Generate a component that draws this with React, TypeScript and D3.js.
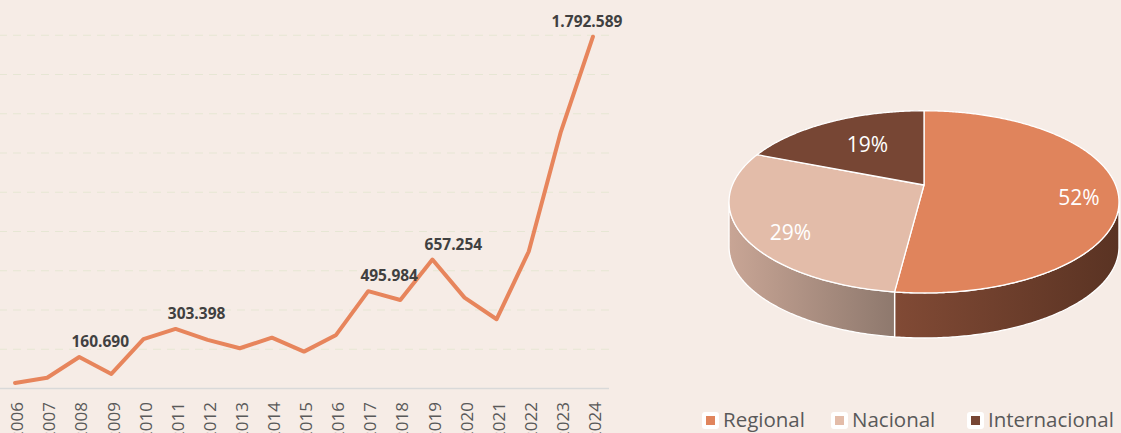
import * as d3 from "d3";
import React, { useRef, useEffect } from "react";

// line chart data
const years = ["2006", "2007", "2008", "2009", "2010", "2011", "2012", "2013", "2014", "2015", "2016", "2017", "2018", "2019", "2020", "2021", "2022", "2023", "2024"];
const visitors = [28000, 55000, 160690, 74000, 252000, 303398, 248000, 205000, 259000, 188000, 273000, 495984, 451000, 657254, 463000, 353000, 698000, 1308000, 1792589];
const labelled = ["2008", "2011", "2017", "2019", "2024"];
const gridTicks = [200000, 400000, 600000, 800000, 1000000, 1200000, 1400000, 1600000, 1800000];

// pie data
const origins = ["Regional", "Nacional", "Internacional"];
const shares = [52, 29, 19];
const pieColors = ["#E0845C", "#E3BCA9", "#774634"];

const W = 1121;
const H = 433;
const BG = "#F6ECE6";

const fmt = d3.formatLocale({ decimal: ",", thousands: ".", grouping: [3], currency: ["", ""] }).format(",d");

function App() {
  const ref = useRef<SVGSVGElement>(null);

  useEffect(() => {
    const svg = d3.select(ref.current);
    svg.selectAll("*").remove();

    svg.append("rect").attr("width", W).attr("height", H).attr("fill", BG);

    // ---------- line chart ----------
    const x = d3.scalePoint().domain(years).range([-1, 609]).padding(0.5);
    const y = d3.scaleLinear().domain([0, 2000000]).range([388.5, -4]);

    const lc = svg.append("g");

    lc.selectAll("line.grid")
      .data(gridTicks)
      .enter()
      .append("line")
      .attr("class", "grid")
      .attr("x1", -1)
      .attr("x2", 609)
      .attr("y1", (d) => y(d))
      .attr("y2", (d) => y(d))
      .attr("stroke", "#E6E6D4")
      .attr("stroke-width", 1.2)
      .attr("stroke-dasharray", "8,6");

    lc.append("line")
      .attr("x1", -1)
      .attr("x2", 609)
      .attr("y1", y(0))
      .attr("y2", y(0))
      .attr("stroke", "#D9D9D9")
      .attr("stroke-width", 1.5);

    lc.selectAll("text.year")
      .data(years)
      .enter()
      .append("text")
      .attr("class", "year")
      .attr("transform", (d) => `translate(${x(d)},402) rotate(-90)`)
      .attr("text-anchor", "end")
      .attr("dy", "0.48em")
      .attr("font-family", "Open Sans")
      .attr("font-size", 17)
      .attr("fill", "#595959")
      .text((d) => d);

    const line = d3
      .line<number>()
      .x((d, i) => x(years[i]) as number)
      .y((d) => y(d));

    lc.append("path")
      .datum(visitors)
      .attr("d", line)
      .attr("fill", "none")
      .attr("stroke", "#E7855C")
      .attr("stroke-width", 4)
      .attr("stroke-linejoin", "round")
      .attr("stroke-linecap", "round");

    const last = years[years.length - 1];
    lc.selectAll("text.val")
      .data(labelled)
      .enter()
      .append("text")
      .attr("class", "val")
      .attr("x", (d) => (x(d) as number) + (d === last ? -6 : 21))
      .attr("y", (d) => y(visitors[years.indexOf(d)]) - 10)
      .attr("text-anchor", "middle")
      .attr("font-family", "Open Sans")
      .attr("font-weight", "bold")
      .attr("font-size", 15.5)
      .attr("fill", "#404040")
      .text((d) => fmt(visitors[years.indexOf(d)]));

    // ---------- 3D pie ----------
    const cx = 924;
    const cy = 185;
    const R = 191.6;
    const Ry = 88;
    const k = 0.185;
    const depth = 45;

    const proj = (a: number, f: number, drop: number): [number, number] => {
      const X = f * Math.sin(a);
      const Z = f * Math.cos(a);
      const den = 1 + k * Z;
      return [cx + (R * X) / den, cy - (Ry * Z) / den + drop];
    };
    const arcPts = (a0: number, a1: number, drop: number) => {
      const n = Math.max(2, Math.ceil(Math.abs(a1 - a0) / 0.01));
      return d3.range(n + 1).map((i) => proj(a0 + ((a1 - a0) * i) / n, 1, drop));
    };

    const arcs = d3.pie<number>().sort(null).value((d) => d)(shares);

    const defs = svg.append("defs");
    const sideGrads = [
      ["#814A35", "#5A3323"],
      ["#C8A595", "#8C776C"],
      ["#5A3323", "#3E2418"],
    ];
    const sideGradX = [
      [895, 1118],
      [730, 900],
      [730, 900],
    ];
    sideGrads.forEach((c, i) => {
      const g = defs
        .append("linearGradient")
        .attr("id", "side" + i)
        .attr("gradientUnits", "userSpaceOnUse")
        .attr("x1", sideGradX[i][0])
        .attr("x2", sideGradX[i][1])
        .attr("y1", 0)
        .attr("y2", 0);
      g.append("stop").attr("offset", 0).attr("stop-color", c[0]);
      g.append("stop").attr("offset", 1).attr("stop-color", c[1]);
    });

    const pie = svg.append("g");
    const frontA = Math.PI - Math.acos(k);
    const frontB = Math.PI + Math.acos(k);

    // side walls (front part only)
    arcs.forEach((a, i) => {
      const s = Math.max(a.startAngle, frontA);
      const e = Math.min(a.endAngle, frontB);
      if (e <= s) return;
      const top = arcPts(s, e, 0);
      const bot = arcPts(e, s, depth);
      pie
        .append("path")
        .attr("d", d3.line()([...top, ...bot]) + "Z")
        .attr("fill", `url(#side${i})`)
        .attr("stroke", "#FFFFFF")
        .attr("stroke-width", 1.3)
        .attr("stroke-linejoin", "round");
    });

    // top faces
    arcs.forEach((a, i) => {
      const pts = [proj(0, 0, 0), ...arcPts(a.startAngle, a.endAngle, 0)];
      pie
        .append("path")
        .attr("d", d3.line()(pts) + "Z")
        .attr("fill", pieColors[i])
        .attr("stroke", "#FFFFFF")
        .attr("stroke-width", 1.3)
        .attr("stroke-linejoin", "round");
    });

    // percentage labels
    const labelF = [0.8, 0.8, 0.6];
    const labelShift = [0.11, -0.12, 0.03];
    arcs.forEach((a, i) => {
      const mid = (a.startAngle + a.endAngle) / 2 + labelShift[i];
      const [lx, ly] = proj(mid, labelF[i], 0);
      pie
        .append("text")
        .attr("x", lx)
        .attr("y", ly)
        .attr("dy", "0.36em")
        .attr("text-anchor", "middle")
        .attr("font-family", "Open Sans")
        .attr("font-size", 21)
        .attr("fill", "#FFFFFF")
        .text(shares[i] + "%");
    });

    // legend
    const legendX = [702, 831, 967];
    const leg = svg
      .selectAll("g.leg")
      .data(origins)
      .enter()
      .append("g")
      .attr("class", "leg")
      .attr("transform", (d, i) => `translate(${legendX[i]},412)`);
    leg.append("rect").attr("width", 17).attr("height", 17).attr("rx", 3).attr("fill", "#FFFFFF");
    leg
      .append("rect")
      .attr("x", 4)
      .attr("y", 4)
      .attr("width", 9)
      .attr("height", 9)
      .attr("fill", (d, i) => pieColors[i]);
    leg
      .append("text")
      .attr("x", 21)
      .attr("y", 15)
      .attr("font-family", "Open Sans")
      .attr("font-size", 20.5)
      .attr("fill", "#595959")
      .text((d) => d);
  }, []);

  return (
    <div style={{ position: "fixed", left: 0, top: 0, width: W, height: H, overflow: "hidden" }}>
      <svg ref={ref} width={W} height={H} style={{ display: "block" }}></svg>
    </div>
  );
}

export default App;
